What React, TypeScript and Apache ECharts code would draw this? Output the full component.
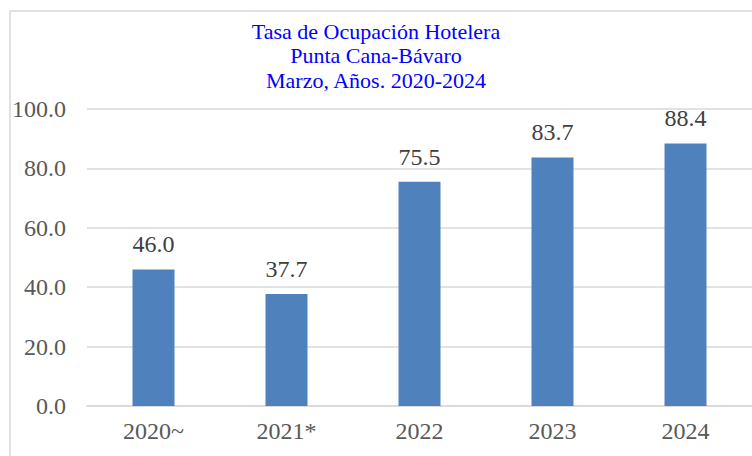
import React, { useEffect, useRef } from "react";
import * as echarts from "echarts";

const titleLines = ["Tasa de Ocupación Hotelera", "Punta Cana-Bávaro", "Marzo, Años. 2020-2024"];
const categories = ["2020~", "2021*", "2022", "2023", "2024"];
const occupancy = [46.0, 37.7, 75.5, 83.7, 88.4];
const yTicks = { min: 0, max: 100, interval: 20 };

const FONT = "Liberation Serif";

export default function App() {
  const ref = useRef<HTMLDivElement>(null);
  useEffect(() => {
    if (!ref.current) return;
    const chart = echarts.init(ref.current, null, { renderer: "svg" });
    chart.setOption({
      animation: false,
      backgroundColor: "#ffffff",
      textStyle: { fontFamily: FONT },
      graphic: [
        {
          type: "rect",
          shape: { x: 10, y: 11, width: 800, height: 500 },
          style: { fill: "none", stroke: "#D9D9D9", lineWidth: 1.5 },
          silent: true,
          z: -1,
        },
      ],
      title: {
        text: titleLines.join("\n"),
        left: "center",
        top: 14,
        textStyle: {
          fontFamily: FONT,
          fontSize: 22,
          fontWeight: "normal",
          color: "#0000FF",
          lineHeight: 24.5,
        },
      },
      grid: { left: 87, right: -8, top: 109, bottom: 50, containLabel: false },
      xAxis: {
        type: "category",
        data: categories,
        axisLine: { show: true, lineStyle: { color: "#D9D9D9", width: 1.5 } },
        axisTick: { show: false },
        axisLabel: {
          fontFamily: FONT,
          fontSize: 24,
          color: "#595959",
          margin: 13,
        },
      },
      yAxis: {
        type: "value",
        min: yTicks.min,
        max: yTicks.max,
        interval: yTicks.interval,
        axisLine: { show: false },
        axisTick: { show: false },
        splitLine: { lineStyle: { color: "#D9D9D9", width: 1.5 } },
        axisLabel: {
          fontFamily: FONT,
          fontSize: 24,
          color: "#595959",
          margin: 21,
          formatter: (v: number) => v.toFixed(1),
        },
      },
      series: [
        {
          type: "bar",
          data: occupancy,
          barWidth: 42,
          itemStyle: { color: "#4F81BD" },
          label: {
            show: true,
            position: "top",
            distance: 13,
            fontFamily: FONT,
            fontSize: 24,
            color: "#404040",
            formatter: (p: any) => Number(p.value).toFixed(1),
          },
        },
      ],
    });
    return () => chart.dispose();
  }, []);
  return (
    <div
      ref={ref}
      style={{ position: "fixed", left: 0, top: 0, width: 752, height: 456 }}
    />
  );
}
